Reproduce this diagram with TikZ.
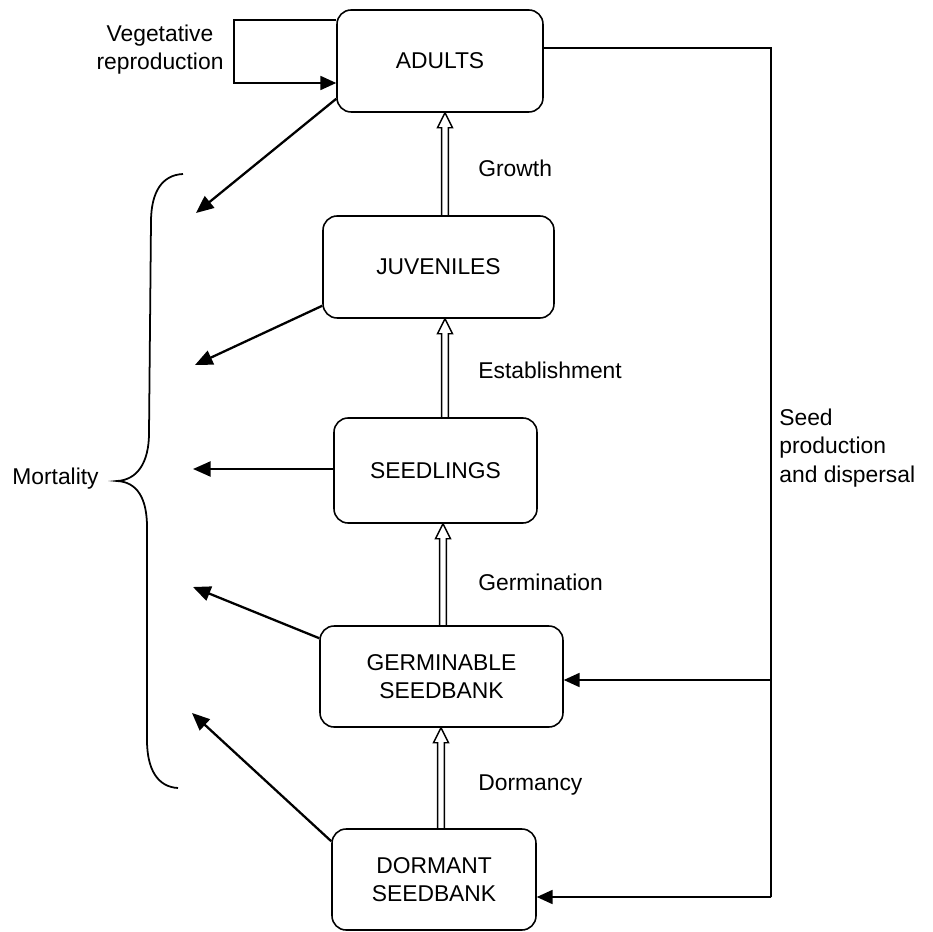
\documentclass[tikz,border=0pt]{standalone}
\usepackage{fontspec}
\setmainfont{Liberation Sans}
\usetikzlibrary{arrows.meta,calc}
\tikzset{
  box/.style={draw, line width=0.9pt, rounded corners=8pt, align=center, inner sep=0pt},
  lbl/.style={inner sep=0pt, align=left},
  arr/.style={line width=0.9pt, -{Triangle[length=9pt,width=8pt]}},
  mort/.style={line width=1.3pt, -{Triangle[length=10pt,width=8.5pt]}},
  conn/.style={line width=0.9pt},
  hollow/.style={draw, line width=0.8pt, line join=miter},
  brace/.style={line width=1pt}
}
\newcommand{\hollowup}[4]{%
  \draw[hollow] ($(#1.north)+(#3-3.4,0)$) -- ($(#2.south)+(#4-3.4,15)$)
    -- ($(#2.south)+(#4-7.5,15)$) -- ($(#2.south)+(#4,0)$)
    -- ($(#2.south)+(#4+7.5,15)$) -- ($(#2.south)+(#4+3.4,15)$)
    -- ($(#1.north)+(#3+3.4,0)$);}
\begin{document}
\begin{tikzpicture}[x=0.02cm, y=-0.02cm, font=\fontsize{13}{16}\selectfont]
\useasboundingbox (0,0) rectangle (933,932);

% boxes
\node[box, minimum width=4.12cm, minimum height=2.04cm] (adults) at (440,61) {ADULTS};
\node[box, minimum width=4.62cm, minimum height=2.04cm] (juv) at (438.5,267) {JUVENILES};
\node[box, minimum width=4.06cm, minimum height=2.1cm] (seedl) at (435.5,470.5) {SEEDLINGS};
\node[box, minimum width=4.86cm, minimum height=2.02cm] (germ) at (441.5,676.5) {GERMINABLE\\SEEDBANK};
\node[box, minimum width=4.08cm, minimum height=2.02cm] (dorm) at (434,879.5) {DORMANT\\SEEDBANK};

% hollow upward arrows
\hollowup{juv}{adults}{6.5}{5}
\hollowup{seedl}{juv}{9.5}{6.5}
\hollowup{germ}{seedl}{1.5}{7.5}
\hollowup{dorm}{germ}{7}{-0.5}

% transition labels
\node[lbl, anchor=west] (lgrowth) at (478,168) {Growth};
\node[lbl, anchor=west] (lestab) at (478,370) {Establishment};
\node[lbl, anchor=west] (lgerm) at (478,582) {Germination};
\node[lbl, anchor=west] (ldorm) at (478,785) {Dormancy};

% vegetative reproduction loop
\node[lbl, align=center] (lveg) at (160,50) {Vegetative\\reproduction};
\draw[arr] ($(adults.west)+(0,-41)$) -- ++(-102,0) |- ($(adults.west)+(0,22)$);

% seed production and dispersal
\coordinate (sp) at (771,680);
\draw[conn] ($(adults.east)+(0,-13)$) -| (sp);
\draw[arr] (sp) -- (germ.east |- sp);
\draw[conn] (sp) -- ($(sp)+(0,217)$);
\draw[arr] ($(sp)+(0,217)$) -- ($(dorm.east)+(0,17.5)$);
\node[lbl, anchor=west] (lseed) at (779,448) {Seed\\production\\and dispersal};

% mortality
\coordinate (m1) at (196,213);
\coordinate (m2) at (195,365);
\coordinate (m3) at (193,469);
\coordinate (m4) at (193,587);
\coordinate (m5) at (192,713);
\draw[mort] ($(adults.south west)+(0,-14)$) -- (m1);
\draw[mort] ($(juv.south west)+(0,-13)$) -- (m2);
\draw[mort] ($(seedl.west)+(0,-1.5)$) -- (m3);
\draw[mort] ($(germ.north west)+(0,13)$) -- (m4);
\draw[mort] ($(dorm.north west)+(0,13)$) -- (m5);

\draw[brace] (183,174) .. controls (162,175) and (151,192) .. (151,222)
  -- (149,433) .. controls (149,463) and (137,480) .. (117,481)
  .. controls (137,482) and (147,498) .. (147,527)
  -- (147,740) .. controls (147,770) and (158,787) .. (178,788);
\node[lbl, anchor=east] (lmort) at (99,479) {Mortality};
\end{tikzpicture}
\end{document}
